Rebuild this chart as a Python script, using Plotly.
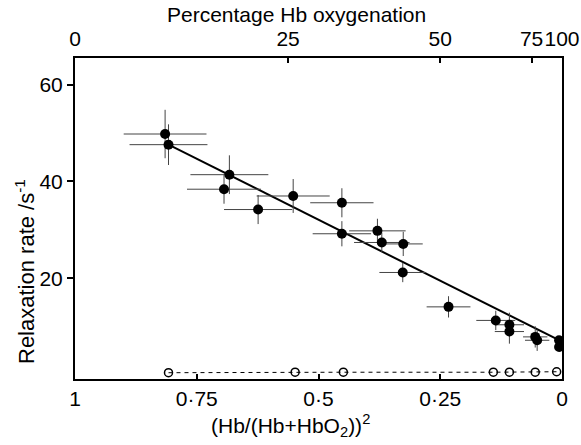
import plotly.graph_objects as go

# Filled points: x = (Hb/(Hb+HbO2))^2, y = relaxation rate /s^-1
fx = [0.815, 0.808, 0.683, 0.694, 0.624, 0.552, 0.452, 0.452, 0.379, 0.370,
      0.326, 0.327, 0.233, 0.136, 0.108, 0.108, 0.055, 0.051, 0.006, 0.006]
fy = [49.8, 47.6, 41.4, 38.4, 34.2, 37.0, 35.6, 29.2, 29.8, 27.4,
      27.1, 21.2, 14.1, 11.3, 10.4, 9.0, 7.9, 7.2, 7.2, 5.8]
fx_err = [0.085, 0.080, 0.080, 0.076, 0.070, 0.075, 0.065, 0.060, 0.058, 0.057,
          0.040, 0.048, 0.045, 0.040, 0.030, 0.030, 0.025, 0.025, 0.0, 0.0]
fy_err = [5.0, 4.2, 4.0, 3.0, 3.0, 3.5, 3.0, 2.6, 2.5, 2.0,
          2.5, 2.0, 2.2, 2.0, 2.5, 2.5, 2.2, 2.2, 0.0, 0.0]

# Open circles (control)
ox = [0.808, 0.548, 0.449, 0.141, 0.108, 0.055, 0.011]
oy = [0.5, 0.6, 0.6, 0.6, 0.6, 0.6, 0.7]

# Fitted line end points
line_x = [0.808, 0.0]
line_y = [47.6, 6.9]

# Axis ticks
bottom_ticks = [1, 0.75, 0.5, 0.25, 0]
bottom_text = ["1", "0·75", "0·5", "0·25", "0"]
top_pct = [0, 25, 50, 75, 100]
top_text = ["0", "25", "50", "75", "100"]
y_ticks = [20, 40, 60]

FONT = "Liberation Sans, Arial, sans-serif"

top_pos = [(1 - p / 100.0) ** 2 for p in top_pct]

fig = go.Figure()

fig.add_trace(go.Scatter(
    x=ox, y=oy, mode="lines+markers",
    line=dict(color="black", width=1, dash="4px,4px"),
    marker=dict(symbol="circle-open", size=8, color="black", line=dict(width=1.5)),
    showlegend=False, hoverinfo="skip"))

fig.add_trace(go.Scatter(
    x=line_x, y=line_y, mode="lines",
    line=dict(color="black", width=2),
    showlegend=False, hoverinfo="skip"))

fig.add_trace(go.Scatter(
    x=fx, y=fy, mode="markers",
    marker=dict(symbol="circle", size=10, color="black"),
    error_x=dict(type="data", array=fx_err, color="#444", thickness=1, width=0),
    error_y=dict(type="data", array=fy_err, color="#444", thickness=1, width=0),
    showlegend=False, hoverinfo="skip"))

# invisible trace on top axis
fig.add_trace(go.Scatter(x=[0.5], y=[30], xaxis="x2", mode="markers",
                         marker=dict(opacity=0), showlegend=False, hoverinfo="skip"))

fig.update_layout(
    template="none",
    width=581, height=445,
    margin=dict(l=75, r=19, t=58, b=66, autoexpand=False),
    paper_bgcolor="white", plot_bgcolor="white",
    font=dict(family=FONT, size=21, color="black"),
    xaxis=dict(range=[1, 0], showgrid=False, zeroline=False, automargin=False,
               showline=True, linecolor="black", linewidth=2,
               ticks="inside", ticklen=5, tickcolor="black", tickwidth=1.5,
               tickvals=bottom_ticks, ticktext=bottom_text, tickangle=0,
               tickfont=dict(size=21), ticklabelstandoff=0),
    xaxis2=dict(range=[1, 0], overlaying="x", side="top", showgrid=False,
                zeroline=False, automargin=False, showline=True,
                linecolor="black", linewidth=2,
                ticks="inside", ticklen=5, tickcolor="black", tickwidth=1.5,
                tickvals=top_pos, ticktext=top_text, tickangle=0,
                tickfont=dict(size=21), ticklabelstandoff=2),
    yaxis=dict(range=[-0.8, 65.5], showgrid=False, zeroline=False, automargin=False,
               showline=True, linecolor="black", linewidth=2, mirror=True,
               ticks="outside", ticklen=6, tickcolor="black", tickwidth=1.5,
               tickvals=y_ticks, ticktext=[str(v) for v in y_ticks],
               tickfont=dict(size=21)),
    annotations=[
        dict(text="Percentage Hb oxygenation", xref="paper", yref="paper",
             x=(296 - 75) / 487, y=1, yshift=44, showarrow=False,
             xanchor="center", yanchor="middle", font=dict(size=21)),
        dict(text="(Hb/(Hb+HbO<sub>2</sub>))<sup>2</sup>", xref="paper", yref="paper",
             x=(290 - 75) / 487, y=0, yshift=-46, showarrow=False,
             xanchor="center", yanchor="middle", font=dict(size=21)),
        dict(text="Relaxation rate /s<sup>-1</sup>", xref="paper", yref="paper",
             x=0, xshift=-50, y=(379 - 272) / 321, showarrow=False, textangle=-90,
             xanchor="center", yanchor="middle", font=dict(size=22)),
    ],
)

fig.write_html("out.html")
